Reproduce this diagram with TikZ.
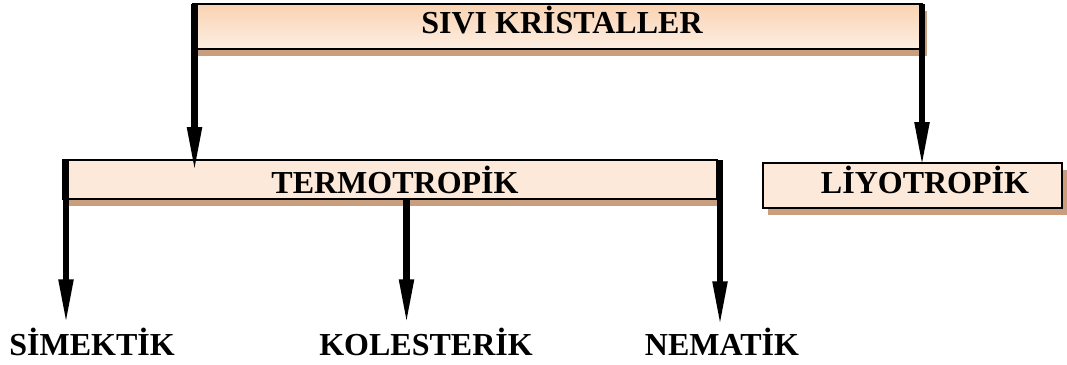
\documentclass[tikz,border=0pt]{standalone}
\usepackage{fontspec}
\setmainfont{Liberation Serif}
\usetikzlibrary{arrows.meta,shadows}
\definecolor{peachl}{HTML}{FDE9DA}
\definecolor{peachd}{HTML}{F9D3B2}
\definecolor{peachb}{HTML}{FDEEE3}
\definecolor{shadowc}{HTML}{C99E7E}
\begin{document}
\begin{tikzpicture}[x=1pt,y=-1pt,
  lbl/.style={font=\fontsize{32}{32}\selectfont\bfseries, text height=21.5pt, text depth=0pt, inner sep=0pt, outer sep=0pt},
  box/.style={lbl, draw=black, line width=2pt,
    drop shadow={shadow xshift=4.5pt, shadow yshift=-7pt, fill=shadowc, draw=none, opacity=1}},
  arr/.style={line width=6.5pt, -{Triangle[length=46pt,width=13.5pt]}}]
\useasboundingbox (0,0) rectangle (1067,364);

\node[box, top color=peachd, bottom color=peachb, minimum width=729pt, minimum height=45pt, text depth=7pt]
  (sk) at (557.5,26.5) {\hspace*{9pt}SIVI KRİSTALLER};
\node[box, fill=peachl, minimum width=654pt, minimum height=39pt, text height=27.5pt]
  (te) at (390,179.5) {\hspace*{10pt}TERMOTROPİK};
\node[box, fill=peachl, minimum width=299pt, minimum height=45pt, text depth=5pt]
  (li) at (912.5,185.5) {\hspace*{25pt}LİYOTROPİK};

\node[lbl] (sim) at (92,345) {SİMEKTİK};
\node[lbl] (kol) at (426,345) {KOLESTERİK};
\node[lbl] (nem) at (722,345) {NEMATİK};

\draw[arr] ([xshift=1.5pt]sk.north west) -- ([xshift=1.5pt,yshift=-13pt]sk.north west |- te.north);
\draw[arr] (sk.north east) -- ([yshift=-5pt]sk.north east |- li.north);
\draw[arr] ([xshift=3pt]te.north west) -- ([xshift=3pt,yshift=9pt]te.north west |- sim.north);
\draw[arr] ([xshift=16.5pt]te.south) -- ([xshift=16.5pt,yshift=9pt]te.south |- kol.north);
\draw[arr] ([xshift=3pt]te.north east) -- ([xshift=3pt,yshift=7pt]te.north east |- nem.north);
\end{tikzpicture}
\end{document}
